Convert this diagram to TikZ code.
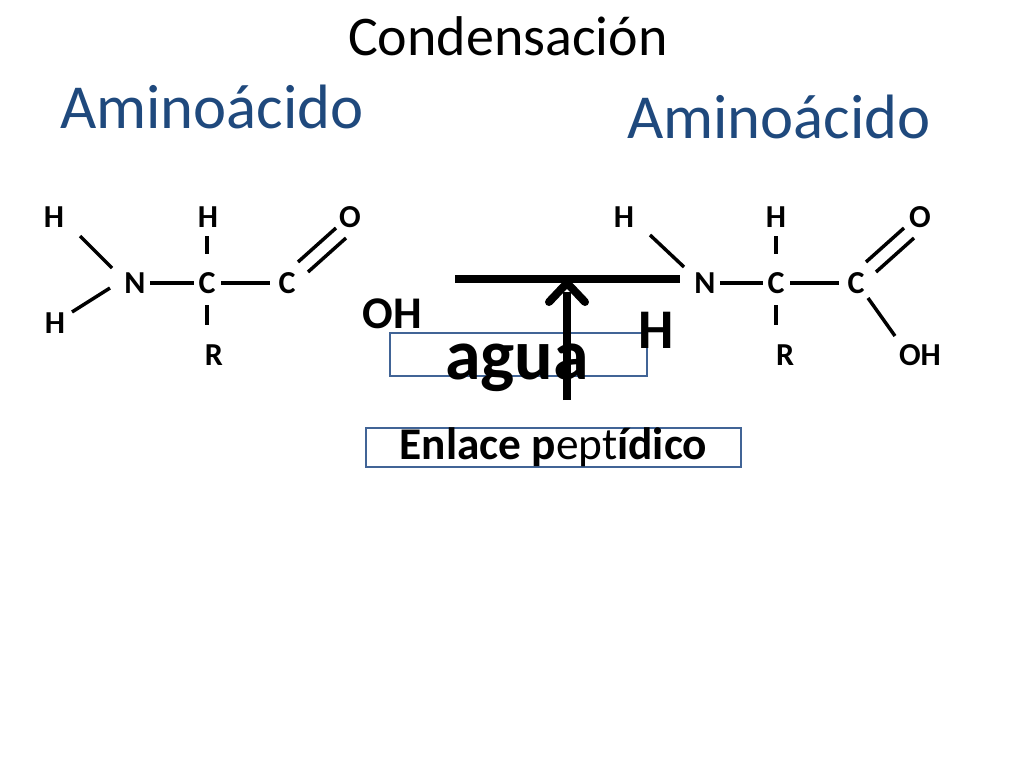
\documentclass[tikz,border=0pt]{standalone}
\usepackage{fontspec}
\setmainfont{Carlito}
\definecolor{tblue}{RGB}{31,73,125}
\definecolor{bbox}{RGB}{65,100,150}
\begin{document}
\begin{tikzpicture}[x=0.75pt,y=-0.75pt,
 atm/.style={font=\fontsize{24}{28}\selectfont\bfseries,inner sep=0pt},
 bd/.style={line width=2.6pt},
 ttl/.style={text=tblue,font=\fontsize{47}{52}\selectfont,inner sep=0pt},
 bx/.style={draw=bbox,line width=1.6pt}]
\useasboundingbox (0,0) rectangle (1024,768);
\node[font=\fontsize{42}{46}\selectfont,inner sep=0pt] (t) at (508,36) {Condensación};
\node[ttl] (a1) at (212,107) {Aminoácido};
\node[ttl] (a2) at (779,117) {Aminoácido};
% left molecule
\node[atm] (h1) at (54,217) {H};
\node[atm] (h2) at (208,217) {H};
\node[atm] (o1) at (350,217) {O};
\node[atm] (n1) at (135,283) {N};
\node[atm] (c1) at (207,283) {C};
\node[atm] (c2) at (287,283) {C};
\node[atm] (h3) at (55,323) {H};
\node[atm] (r1) at (214,355) {R};
\draw[bd] (80,236) -- (112,268);
\draw[bd] (72,312) -- (110,288);
\draw[bd] ([xshift=3pt]n1.east) -- ([xshift=-3pt]c1.west);
\draw[bd] ([xshift=4pt]c1.east) -- ([xshift=-6pt]c2.west);
\draw[bd] (207,236) -- (207,254);
\draw[bd] (207,305) -- (207,325);
\draw[bd] (298,262) -- (336,228);
\draw[bd] (308,272) -- (346,238);
\node[font=\fontsize{34}{38}\selectfont\bfseries,inner sep=0pt] (oh) at (392,314) {OH};
% right molecule
\node[atm] (h4) at (624,217) {H};
\node[atm] (h5) at (776,217) {H};
\node[atm] (o2) at (920,217) {O};
\node[atm] (n2) at (705,283) {N};
\node[atm] (c3) at (776,283) {C};
\node[atm] (c4) at (856,283) {C};
\node[atm] (r2) at (785,355) {R};
\node[atm] (oh2) at (920,355) {OH};
\draw[bd] (650,235) -- (684,267);
\draw[bd] ([xshift=3pt]n2.east) -- ([xshift=-3pt]c3.west);
\draw[bd] ([xshift=4pt]c3.east) -- ([xshift=-6pt]c4.west);
\draw[bd] (776,236) -- (776,254);
\draw[bd] (776,305) -- (776,325);
\draw[bd] (866,262) -- (904,228);
\draw[bd] (876,272) -- (914,238);
\draw[bd] (868,298) -- (895,336);
% center
\node[bx,minimum width=257*0.75pt,minimum height=43*0.75pt,inner sep=0pt] (ab) at (518.5,354.5) {};
\node[font=\fontsize{54}{58}\selectfont\bfseries,inner sep=0pt] (ag) at (517,368) {agua};
\node[font=\fontsize{42}{46}\selectfont\bfseries,inner sep=0pt] (hh) at (656,330) {H};
\draw[line width=6pt] (455,279) -- (680,279);
\coordinate (ab0) at (567,400);
\coordinate (ab1) at (567,283);
\draw[line width=6pt] (ab0) -- (567,292);
\draw[line width=6pt,line cap=round,line join=miter] (549,302) -- (ab1) -- (585,302);
\node[bx,minimum width=375*0.75pt,minimum height=39*0.75pt,inner sep=0pt,font=\fontsize{34}{36}\selectfont] (en) at (553.5,447.5) {\textbf{Enlace p}ept\textbf{ídico}};
\end{tikzpicture}
\end{document}
